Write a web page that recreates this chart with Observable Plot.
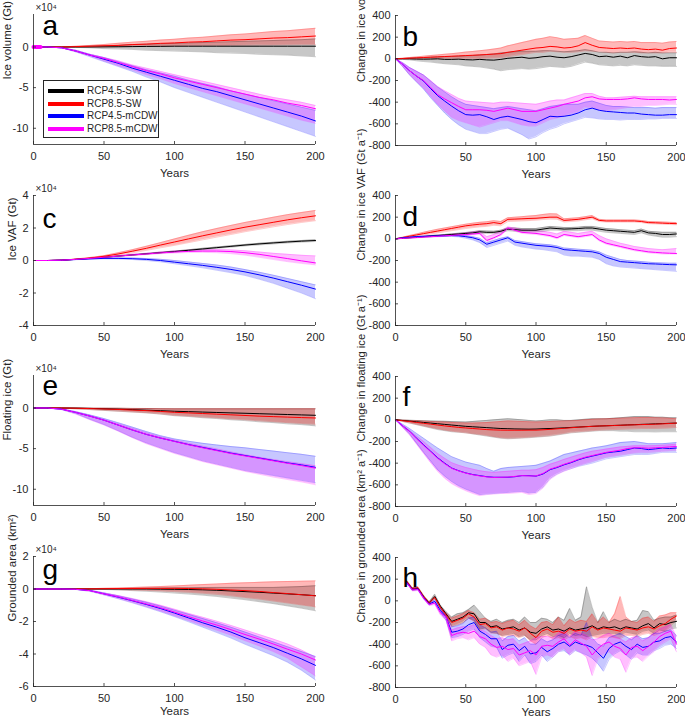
<!DOCTYPE html>
<html><head><meta charset="utf-8">
<script src="https://cdn.jsdelivr.net/npm/d3@7"></script>
<script src="https://cdn.jsdelivr.net/npm/@observablehq/plot@0.6"></script>
<style>
body{margin:0;width:685px;height:717px;overflow:hidden;background:#fff;font-family:"Liberation Sans",Arial,sans-serif}
#wrap{position:relative;width:685px;height:717px;overflow:hidden}
.p{position:absolute}
#legend{position:absolute;left:43px;top:80px;width:116px;height:58px;border:0.8px solid #262626;background:#fff;box-sizing:border-box}
.lrow{position:absolute;left:0;height:12px;width:116px}
.lline{position:absolute;left:3.5px;top:4px;width:36px;height:4px}
.ltext{position:absolute;left:43px;top:0px;font-size:10px;line-height:12px;color:#262626;white-space:nowrap}
</style>
</head><body><div id="wrap"></div>
<script>
// ---------- categories ----------
const seriesNames = ["RCP4.5-SW","RCP8.5-SW","RCP4.5-mCDW","RCP8.5-mCDW"];
const seriesColors = ["#000000","#ff0000","#0000ff","#ff00ff"];
const bandOpacity = [0.22,0.28,0.22,0.25];

// ---------- x values ----------
const yearsSmooth = [0,10,20,30,40,50,60,70,80,90,100,110,120,130,140,150,160,170,180,190,200];
const years5 = [0,5,10,15,20,25,30,35,40,45,50,55,60,65,70,75,80,85,90,95,100,105,110,115,120,125,130,135,140,145,150,155,160,165,170,175,180,185,190,195,200];
const yearsH = [8,12,16,20,24,28,32,36,40,44,48,52,56,60,64,68,72,76,80,84,88,92,96,100,104,108,112,116,120,124,128,132,136,140,144,148,152,156,160,164,168,172,176,180,184,188,192,196,200];

// ---------- tick labels ----------
const xTicksFull = [0,50,100,150,200];
const xTicksB = [50,100,150,200];
const yTicksA = [-10,-5,0];
const yTicksC = [-4,-2,0,2,4];
const yTicksE = [-10,-5,0];
const yTicksG = [-6,-4,-2,0,2];
const yTicksRate = [-800,-600,-400,-200,0,200,400];

// ---------- panel a: Ice volume (x1e4 Gt) ----------
const a_k_mean = [0,0,0,0,0,0.02,0.03,0.05,0.07,0.08,0.1,0.1,0.1,0.1,0.1,0.1,0.1,0.1,0.1,0.1,0.1];
const a_k_lo = [0,0,0,-0.05,-0.1,-0.2,-0.25,-0.3,-0.4,-0.45,-0.5,-0.55,-0.6,-0.7,-0.75,-0.8,-0.9,-0.95,-1.0,-1.1,-1.2];
const a_k_hi = [0,0,0,0.05,0.1,0.15,0.2,0.3,0.35,0.4,0.45,0.5,0.55,0.6,0.65,0.7,0.75,0.8,0.85,0.9,1.0];
const a_r_mean = [0,0,0,0.05,0.1,0.15,0.2,0.3,0.35,0.45,0.5,0.6,0.65,0.75,0.85,0.9,1.0,1.1,1.15,1.25,1.35];
const a_r_lo = [0,0,0,0,0,0.02,0.04,0.06,0.08,0.1,0.12,0.14,0.16,0.18,0.2,0.22,0.24,0.26,0.28,0.3,0.3];
const a_r_hi = [0,0,0,0.1,0.2,0.3,0.45,0.6,0.7,0.85,0.95,1.1,1.2,1.35,1.5,1.6,1.75,1.9,2.0,2.15,2.3];
const a_b_mean = [0,0,-0.1,-0.5,-1.0,-1.5,-2.0,-2.6,-3.1,-3.6,-4.1,-4.6,-5.1,-5.5,-6.0,-6.5,-7.0,-7.5,-8.0,-8.5,-9.1];
const a_b_lo = [0,0,-0.1,-0.6,-1.2,-1.8,-2.4,-3.0,-3.7,-4.3,-5.0,-5.6,-6.2,-6.8,-7.4,-8.0,-8.6,-9.2,-9.8,-10.4,-11.0];
const a_b_hi = [0,0,-0.1,-0.4,-0.9,-1.3,-1.8,-2.3,-2.8,-3.2,-3.6,-4.1,-4.5,-4.9,-5.4,-5.8,-6.2,-6.6,-7.0,-7.4,-7.8];
const a_m_mean = [0,0,-0.1,-0.5,-1.0,-1.4,-1.9,-2.4,-2.9,-3.3,-3.8,-4.2,-4.6,-5.0,-5.4,-5.8,-6.2,-6.5,-6.9,-7.2,-7.6];
const a_m_lo = [0,0,-0.1,-0.6,-1.1,-1.7,-2.3,-2.8,-3.4,-3.9,-4.5,-5.0,-5.5,-6.0,-6.5,-7.0,-7.5,-8.0,-8.5,-9.0,-9.4];
const a_m_hi = [0,0,-0.1,-0.4,-0.9,-1.3,-1.7,-2.2,-2.6,-3.0,-3.4,-3.8,-4.2,-4.6,-5.0,-5.4,-5.8,-6.2,-6.5,-6.8,-7.2];
const a_stubYears = [0,5];
const a_stubValues = [0,0];

// ---------- panel c: Ice VAF (x1e4 Gt) ----------
const c_k_mean = [0,0,0.02,0.07,0.13,0.2,0.27,0.34,0.41,0.48,0.55,0.63,0.71,0.79,0.87,0.95,1.02,1.08,1.14,1.19,1.23];
const c_k_lo = [0,0,0.02,0.07,0.12,0.19,0.26,0.32,0.39,0.45,0.52,0.6,0.67,0.75,0.82,0.9,0.96,1.02,1.08,1.13,1.17];
const c_k_hi = [0,0,0.02,0.07,0.14,0.21,0.28,0.36,0.43,0.51,0.58,0.66,0.75,0.83,0.91,0.99,1.06,1.12,1.18,1.23,1.27];
const c_r_mean = [0,0,0.02,0.08,0.15,0.26,0.4,0.57,0.75,0.95,1.14,1.33,1.52,1.7,1.88,2.05,2.2,2.35,2.5,2.63,2.75];
const c_r_lo = [0,0,0.02,0.07,0.13,0.22,0.33,0.47,0.62,0.78,0.93,1.1,1.27,1.44,1.6,1.77,1.92,2.07,2.21,2.34,2.45];
const c_r_hi = [0,0,0.02,0.09,0.18,0.3,0.47,0.66,0.87,1.1,1.33,1.55,1.77,1.97,2.16,2.34,2.5,2.66,2.82,2.95,3.08];
const c_b_mean = [0,0,0.02,0.06,0.1,0.13,0.13,0.11,0.07,0.0,-0.1,-0.2,-0.3,-0.42,-0.55,-0.7,-0.88,-1.08,-1.3,-1.52,-1.76];
const c_b_lo = [0,0,0.02,0.05,0.08,0.1,0.09,0.06,0.0,-0.08,-0.2,-0.32,-0.45,-0.6,-0.75,-0.92,-1.15,-1.4,-1.7,-2.0,-2.35];
const c_b_hi = [0,0,0.02,0.07,0.11,0.15,0.16,0.15,0.12,0.07,0.0,-0.09,-0.18,-0.28,-0.4,-0.56,-0.72,-0.9,-1.1,-1.3,-1.5];
const c_m_mean = [0,0,0.02,0.07,0.13,0.2,0.27,0.34,0.4,0.47,0.52,0.56,0.58,0.58,0.55,0.48,0.38,0.25,0.12,-0.02,-0.15];
const c_m_lo = [0,0,0.02,0.06,0.12,0.18,0.24,0.3,0.36,0.42,0.46,0.49,0.5,0.48,0.42,0.33,0.2,0.06,-0.07,-0.18,-0.27];
const c_m_hi = [0,0,0.02,0.08,0.14,0.22,0.3,0.38,0.45,0.52,0.58,0.63,0.66,0.67,0.65,0.6,0.52,0.44,0.38,0.32,0.28];

// ---------- panel e: Floating ice (x1e4 Gt) ----------
const e_k_mean = [0,0,0,-0.02,-0.05,-0.1,-0.15,-0.2,-0.27,-0.33,-0.4,-0.45,-0.5,-0.55,-0.6,-0.65,-0.7,-0.75,-0.8,-0.85,-0.9];
const e_k_lo = [0,0,-0.02,-0.1,-0.2,-0.3,-0.4,-0.5,-0.6,-0.75,-0.95,-1.05,-1.2,-1.3,-1.45,-1.55,-1.7,-1.8,-1.95,-2.05,-2.2];
const e_k_hi = [0,0,0,0,-0.02,-0.03,-0.04,-0.05,-0.06,-0.08,-0.1,-0.1,-0.1,-0.1,-0.1,-0.1,-0.1,-0.1,-0.1,-0.1,-0.1];
const e_r_mean = [0,0,0,-0.03,-0.07,-0.12,-0.18,-0.25,-0.32,-0.42,-0.53,-0.6,-0.68,-0.76,-0.84,-0.92,-1.0,-1.06,-1.12,-1.18,-1.23];
const e_r_lo = [0,0,-0.02,-0.1,-0.19,-0.28,-0.38,-0.48,-0.58,-0.72,-0.9,-1.0,-1.12,-1.22,-1.35,-1.45,-1.58,-1.68,-1.8,-1.9,-2.0];
const e_r_hi = [0,0,0,0,-0.02,-0.03,-0.04,-0.05,-0.06,-0.08,-0.1,-0.1,-0.1,-0.1,-0.1,-0.1,-0.1,-0.1,-0.1,-0.1,-0.1];
const e_b_mean = [0,0,-0.15,-0.55,-1.0,-1.5,-2.1,-2.7,-3.25,-3.7,-4.1,-4.5,-4.85,-5.2,-5.55,-5.85,-6.15,-6.45,-6.75,-7.0,-7.3];
const e_b_lo = [0,0,-0.2,-0.7,-1.4,-2.05,-2.8,-3.6,-4.3,-4.9,-5.5,-6.0,-6.5,-6.9,-7.3,-7.7,-8.0,-8.3,-8.6,-8.9,-9.2];
const e_b_hi = [0,0,-0.1,-0.45,-0.85,-1.3,-1.8,-2.35,-2.9,-3.4,-3.8,-4.1,-4.35,-4.55,-4.75,-4.9,-5.1,-5.3,-5.5,-5.7,-5.95];
const e_m_mean = [0,0,-0.15,-0.55,-1.0,-1.5,-2.1,-2.7,-3.25,-3.7,-4.12,-4.53,-4.9,-5.25,-5.6,-5.9,-6.2,-6.5,-6.8,-7.08,-7.4];
const e_m_lo = [0,0,-0.2,-0.75,-1.45,-2.1,-2.85,-3.65,-4.4,-5.0,-5.6,-6.1,-6.6,-7.0,-7.4,-7.8,-8.15,-8.5,-8.8,-9.1,-9.45];
const e_m_hi = [0,0,-0.1,-0.45,-0.9,-1.4,-1.95,-2.5,-3.05,-3.55,-3.95,-4.35,-4.7,-5.05,-5.4,-5.75,-6.05,-6.35,-6.6,-6.85,-7.1];

// ---------- panel g: Grounded area (x1e4 km2) ----------
const g_k_mean = [0,0,0,0,0,0,0,0,0,-0.01,-0.02,-0.03,-0.05,-0.08,-0.12,-0.16,-0.2,-0.25,-0.3,-0.35,-0.41];
const g_k_lo = [0,0,0,0,-0.01,-0.03,-0.06,-0.1,-0.14,-0.19,-0.25,-0.31,-0.38,-0.46,-0.56,-0.66,-0.78,-0.9,-1.04,-1.18,-1.34];
const g_k_hi = [0,0,0,0,0.01,0.02,0.03,0.04,0.05,0.06,0.07,0.08,0.09,0.1,0.1,0.1,0.1,0.1,0.12,0.15,0.2];
const g_r_mean = [0,0,0,0,0.01,0.02,0.03,0.03,0.04,0.04,0.04,0.03,0.01,-0.02,-0.06,-0.1,-0.15,-0.22,-0.28,-0.35,-0.42];
const g_r_lo = [0,0,0,0,-0.01,-0.02,-0.04,-0.06,-0.09,-0.12,-0.16,-0.2,-0.26,-0.33,-0.42,-0.52,-0.62,-0.74,-0.86,-0.98,-1.1];
const g_r_hi = [0,0,0,0.01,0.02,0.04,0.06,0.09,0.12,0.15,0.19,0.23,0.27,0.31,0.35,0.38,0.41,0.44,0.46,0.48,0.5];
const g_b_mean = [0,0,0,-0.02,-0.1,-0.3,-0.5,-0.72,-0.95,-1.2,-1.48,-1.78,-2.08,-2.35,-2.65,-3.0,-3.3,-3.6,-3.95,-4.3,-4.7];
const g_b_lo = [0,0,0,-0.03,-0.14,-0.36,-0.6,-0.85,-1.12,-1.4,-1.7,-2.02,-2.35,-2.68,-3.02,-3.4,-3.75,-4.1,-4.5,-5.0,-5.6];
const g_b_hi = [0,0,0,-0.01,-0.07,-0.24,-0.42,-0.62,-0.82,-1.05,-1.3,-1.56,-1.82,-2.08,-2.35,-2.65,-2.95,-3.25,-3.55,-3.85,-4.15];
const g_m_mean = [0,0,0,-0.02,-0.1,-0.3,-0.48,-0.7,-0.92,-1.15,-1.42,-1.7,-1.97,-2.22,-2.5,-2.8,-3.08,-3.38,-3.7,-4.0,-4.37];
const g_m_lo = [0,0,0,-0.03,-0.14,-0.36,-0.58,-0.82,-1.08,-1.35,-1.64,-1.94,-2.24,-2.54,-2.84,-3.18,-3.5,-3.85,-4.25,-4.8,-5.35];
const g_m_hi = [0,0,0,-0.01,-0.07,-0.24,-0.4,-0.58,-0.78,-1.0,-1.24,-1.5,-1.74,-1.98,-2.24,-2.52,-2.8,-3.08,-3.38,-3.75,-4.2];

// ---------- panel b: Change in ice volume (Gt/a) ----------
const b_k_mean = [0,0,0,-2,-3,-2,0,-5,-5,-3, -8,-10,-5,-10,-12,-5,5,10,15,5, 10,20,25,15,10,20,35,50,40,20, 25,15,25,10,30,20,15,20,0,10, 10];
const b_k_lo = [0,-5,-10,-18,-25,-30,-38,-45,-50,-55, -65,-70,-75,-85,-95,-110,-100,-95,-90,-95, -90,-80,-70,-75,-80,-70,-50,-30,-40,-55, -60,-65,-60,-65,-55,-60,-65,-65,-70,-70, -70];
const b_k_hi = [0,3,6,9,12,15,18,20,22,24, 28,30,35,40,45,55,60,65,70,70, 70,75,75,70,65,70,75,85,75,60, 60,55,60,60,65,60,55,60,55,55, 55];
const b_r_mean = [0,3,6,9,12,15,18,21,24,27, 30,33,36,40,44,48,60,70,80,90, 100,105,115,110,100,105,120,150,125,105, 100,95,100,95,100,90,85,90,80,95, 100];
const b_r_lo = [0,0,0,0,0,0,0,0,0,0, 0,2,4,6,8,10,20,30,40,50, 60,60,70,65,60,60,65,75,70,65, 60,55,60,60,60,55,55,55,55,60, 60];
const b_r_hi = [0,6,12,18,24,30,36,42,48,55, 62,68,75,82,90,100,120,135,150,165, 180,190,205,195,180,185,190,215,190,165, 160,155,160,155,160,150,150,150,145,155, 160];
const b_b_mean = [0,-50,-110,-160,-205,-275,-340,-390,-437,-480, -515,-520,-515,-535,-560,-540,-530,-545,-560,-580, -590,-560,-530,-535,-530,-520,-500,-470,-455,-475, -485,-490,-495,-500,-500,-510,-515,-520,-520,-515, -515];
const b_b_lo = [0,-70,-150,-215,-280,-360,-430,-500,-560,-610, -650,-670,-690,-690,-670,-650,-640,-670,-700,-740, -720,-680,-650,-630,-600,-580,-560,-540,-545,-555, -560,-560,-565,-560,-560,-560,-555,-555,-550,-550, -550];
const b_b_hi = [0,-35,-80,-115,-150,-205,-260,-305,-350,-390, -420,-430,-440,-450,-460,-450,-440,-450,-460,-470, -480,-460,-440,-430,-420,-420,-420,-400,-390,-410, -430,-440,-440,-445,-450,-450,-450,-455,-450,-450, -450];
const b_m_mean = [0,-50,-110,-160,-200,-265,-330,-370,-405,-440, -470,-470,-470,-475,-485,-470,-455,-470,-485,-485, -485,-470,-455,-440,-420,-405,-390,-360,-350,-370, -375,-375,-375,-370,-360,-370,-375,-375,-375,-380, -375];
const b_m_lo = [0,-70,-145,-210,-270,-345,-420,-480,-540,-570, -590,-610,-630,-610,-590,-570,-570,-590,-610,-620, -620,-590,-560,-545,-530,-510,-490,-450,-450,-470, -480,-470,-460,-450,-440,-440,-430,-430,-425,-420, -420];
const b_m_hi = [0,-35,-80,-115,-150,-200,-255,-295,-330,-365, -390,-395,-400,-405,-410,-400,-400,-405,-410,-415, -420,-405,-390,-380,-380,-360,-340,-320,-320,-345, -360,-360,-355,-350,-345,-350,-350,-350,-350,-350, -350];

// ---------- panel d: Change in ice VAF (Gt/a) ----------
const d_k_mean = [0,5,10,15,20,25,30,35,40,45, 50,55,65,60,60,70,90,85,80,80, 80,90,100,95,90,92,95,100,100,90, 80,75,70,65,60,75,55,50,40,40, 45];
const d_k_lo = [0,3,7,11,15,19,23,27,31,35, 40,45,52,50,50,55,75,70,65,65, 65,70,80,80,75,75,75,80,80,70, 60,55,50,45,40,55,35,25,15,15, 20];
const d_k_hi = [0,6,12,18,24,30,35,40,46,52, 58,65,75,72,70,80,100,100,95,95, 95,105,115,110,105,105,108,115,115,105, 95,90,85,80,75,90,70,65,60,60, 60];
const d_r_mean = [0,12,24,36,48,60,72,84,96,108, 120,128,135,140,150,140,180,182,185,188, 190,195,200,200,170,175,180,190,200,170, 165,165,165,165,165,160,150,148,145,142, 140];
const d_r_lo = [0,8,17,26,36,45,55,65,75,85, 95,103,110,115,125,120,160,162,165,168, 172,178,182,180,155,160,165,175,185,160, 155,155,155,155,155,150,140,138,135,132, 130];
const d_r_hi = [0,15,30,45,60,75,88,100,112,124, 135,145,152,158,168,160,195,200,205,210, 215,225,232,230,185,190,195,205,215,180, 175,175,175,175,175,170,160,158,155,152, 150];
const d_b_mean = [0,10,15,20,22,25,27,28,30,28, 20,10,-10,-50,-30,-10,10,-30,-40,-50, -60,-65,-70,-80,-100,-105,-110,-115,-120,-135, -170,-190,-210,-215,-220,-225,-230,-232,-235,-238, -240];
const d_b_lo = [0,7,12,16,18,20,22,22,22,18, 5,-10,-35,-80,-60,-40,-20,-60,-75,-85, -95,-100,-110,-120,-150,-160,-160,-165,-170,-190, -230,-250,-260,-265,-270,-275,-280,-285,-290,-295, -300];
const d_b_hi = [0,12,18,24,27,30,32,34,36,35, 30,20,5,-35,-15,5,20,-15,-25,-35, -45,-50,-55,-65,-85,-90,-95,-100,-105,-120, -150,-170,-190,-200,-205,-210,-215,-220,-222,-225, -225];
const d_m_mean = [0,4,8,12,16,20,24,28,32,36, 40,45,50,-15,10,40,100,80,60,55, 50,40,30,10,40,30,20,30,40,-10, -40,-55,-70,-85,-100,-110,-120,-125,-130,-133, -135];
const d_m_lo = [0,3,6,9,12,15,18,22,25,28, 32,36,40,-25,0,30,90,70,50,45, 40,30,20,0,30,20,10,20,30,-20, -50,-65,-80,-95,-110,-120,-130,-135,-140,-140, -140];
const d_m_hi = [0,6,11,16,21,26,31,36,42,48, 55,62,70,20,40,70,110,100,85,80, 75,70,60,45,70,60,50,60,70,30, 0,-20,-40,-55,-70,-80,-90,-95,-100,-95, -90];

// ---------- panel f: Change in floating ice (Gt/a) ----------
const f_k_mean = [0,-6,-12,-18,-24,-30,-36,-42,-48,-54, -60,-64,-68,-72,-76,-80,-82,-84,-85,-86, -85,-82,-80,-77,-74,-70,-67,-63,-60,-57, -55,-52,-50,-47,-45,-42,-40,-37,-35,-32, -30];
const f_k_lo = [0,-15,-30,-45,-60,-75,-90,-100,-110,-115, -120,-130,-140,-150,-160,-170,-175,-172,-168,-165, -160,-155,-150,-140,-130,-120,-115,-110,-105,-100, -100,-100,-105,-105,-110,-110,-110,-112,-110,-110, -110];
const f_k_hi = [0,-2,-4,-6,-8,-10,-12,-14,-16,-18, -20,-15,-10,-5,0,5,10,5,0,-5, -10,-5,0,0,-5,-5,0,5,10,10, 10,15,20,25,30,30,30,25,25,20, 20];
const f_r_mean = [0,-8,-16,-24,-32,-40,-48,-56,-63,-70, -75,-80,-85,-90,-93,-95,-96,-96,-96,-95, -95,-92,-88,-83,-78,-73,-68,-64,-60,-57, -55,-53,-50,-48,-46,-44,-42,-40,-37,-34, -30];
const f_r_lo = [0,-14,-28,-42,-56,-70,-84,-95,-105,-112, -120,-128,-135,-145,-155,-165,-170,-168,-165,-160, -155,-150,-145,-135,-125,-115,-110,-105,-100,-95, -92,-90,-88,-85,-83,-80,-80,-80,-78,-75, -70];
const f_r_hi = [0,-3,-6,-9,-12,-15,-18,-21,-24,-27, -30,-30,-28,-25,-20,-15,-10,-12,-15,-18, -20,-18,-15,-12,-10,-8,-5,0,5,8, 10,12,15,18,20,22,22,20,18,15, 10];
const f_b_mean = [0,-55,-105,-170,-230,-290,-350,-400,-445,-470, -490,-505,-515,-525,-530,-530,-530,-525,-515,-515, -520,-500,-460,-440,-415,-395,-370,-350,-335,-320, -305,-297,-290,-275,-260,-265,-275,-268,-260,-265, -260];
const f_b_lo = [0,-65,-130,-215,-300,-380,-460,-520,-570,-610, -640,-665,-690,-685,-680,-675,-670,-665,-660,-675, -670,-620,-540,-500,-470,-450,-430,-415,-400,-380, -360,-350,-340,-330,-320,-320,-320,-310,-300,-300, -300];
const f_b_hi = [0,-40,-80,-125,-170,-215,-260,-300,-340,-365, -390,-405,-420,-450,-475,-450,-440,-435,-430,-425, -420,-400,-380,-350,-320,-305,-290,-275,-260,-250, -240,-225,-210,-205,-200,-210,-220,-220,-220,-215, -210];
const f_m_mean = [0,-55,-108,-175,-235,-295,-355,-405,-448,-472, -492,-507,-518,-527,-532,-530,-528,-522,-515,-518, -518,-495,-455,-435,-410,-390,-365,-345,-330,-315, -300,-290,-280,-265,-258,-258,-262,-258,-255,-250, -245];
const f_m_lo = [0,-70,-140,-225,-310,-395,-475,-540,-590,-625, -655,-680,-700,-690,-685,-680,-680,-675,-670,-690, -680,-630,-550,-505,-475,-450,-425,-405,-385,-365, -345,-335,-325,-315,-305,-300,-300,-295,-290,-285, -280];
const f_m_hi = [0,-48,-95,-150,-200,-255,-310,-355,-395,-420, -440,-455,-470,-480,-485,-480,-475,-470,-465,-465, -460,-440,-410,-390,-365,-345,-325,-305,-290,-280, -270,-260,-250,-245,-240,-240,-240,-238,-235,-230, -225];

// ---------- panel h: Change in grounded area (km2/a) ----------
const h_k_mean = [175,110,115,40,-20,40,-50,-120,-190,-170, -150,-110,-120,-200,-200,-240,-230,-260,-250,-240, -270,-250,-290,-300,-260,-240,-270,-260,-280,-250, -270,-260,-250,-230,-260,-240,-250,-240,-260,-240, -250,-260,-230,-210,-250,-210,-220,-200,-190];
const h_k_lo = [165,100,105,30,-30,20,-70,-150,-230,-220, -200,-160,-180,-260,-250,-290,-300,-320,-310,-300, -330,-320,-360,-360,-320,-300,-330,-320,-340,-300, -320,-310,-330,-320,-310,-300,-300,-300,-310,-290, -300,-310,-280,-270,-300,-270,-280,-260,-250];
const h_k_hi = [185,120,125,50,-10,60,-40,-100,-150,-120, -110,-80,-40,-100,-160,-190,-170,-200,-180,-170, -200,-150,-200,-200,-160,-170,-200,-150,-180,-70, -180,-150,130,-60,-200,-100,-200,-170,-190,-170, -190,-180,-90,-100,-180,-160,-150,-150,-130];
const h_r_mean = [180,110,120,40,-20,30,-60,-130,-200,-180, -160,-120,-150,-220,-210,-250,-240,-270,-250,-260, -280,-250,-300,-340,-280,-260,-290,-280,-300,-260, -280,-270,-280,-240,-270,-250,-260,-270,-280,-250, -260,-270,-250,-240,-260,-230,-210,-170,-140];
const h_r_lo = [170,100,110,30,-30,20,-70,-150,-240,-220, -200,-160,-190,-270,-260,-300,-300,-330,-320,-320, -340,-320,-370,-400,-340,-320,-350,-340,-360,-330, -350,-340,-360,-330,-340,-340,-330,-340,-350,-320, -320,-330,-310,-300,-320,-300,-280,-230,-180];
const h_r_hi = [190,120,130,50,-10,40,-50,-110,-160,-140, -120,-90,-110,-170,-160,-200,-190,-210,-190,-180, -220,-180,-230,-260,-200,-190,-220,-150,-230,-170, -200,-180,-190,-120,-200,-150,-200,-120,40,-150, -190,-200,-160,-150,-190,-140,-130,-110,-110];
const h_b_mean = [170,105,110,30,-30,-5,-90,-150,-290,-280, -260,-220,-200,-280,-310,-350,-350,-450,-410,-400, -460,-420,-490,-480,-430,-470,-440,-400,-380,-420, -380,-400,-410,-430,-480,-530,-440,-400,-380,-420, -450,-400,-430,-420,-380,-370,-340,-330,-380];
const h_b_lo = [165,95,100,20,-40,-20,-110,-180,-340,-330, -310,-280,-260,-340,-380,-420,-430,-530,-500,-480, -560,-500,-580,-560,-500,-560,-520,-470,-460,-500, -460,-480,-500,-530,-580,-650,-540,-490,-460,-500, -540,-480,-500,-500,-460,-440,-410,-400,-440];
const h_b_hi = [175,115,120,40,-20,10,-70,-120,-240,-230, -210,-160,-150,-220,-250,-290,-280,-370,-330,-320, -370,-340,-400,-400,-350,-380,-360,-320,-300,-340, -300,-320,-200,-340,-400,-420,-340,-320,-300,-330, -360,-320,-350,-340,-300,-300,-280,-270,-320];
const h_m_mean = [165,100,105,25,-35,-20,-110,-150,-320,-300, -290,-300,-280,-330,-350,-400,-430,-420,-450,-440, -500,-480,-460,-500,-420,-410,-420,-380,-350,-410, -360,-390,-420,-500,-440,-400,-380,-420,-440,-500, -430,-420,-460,-420,-380,-330,-300,-280,-400];
const h_m_lo = [160,90,95,15,-45,-35,-130,-180,-370,-350, -340,-360,-340,-400,-430,-500,-520,-500,-560,-530, -600,-580,-560,-680,-520,-500,-520,-470,-440,-500, -450,-480,-520,-690,-540,-500,-470,-520,-540,-660, -530,-520,-560,-510,-470,-410,-380,-350,-470];
const h_m_hi = [170,110,115,35,-25,-5,-90,-120,-270,-250, -240,-240,-220,-270,-280,-320,-350,-340,-360,-350, -410,-390,-370,-340,-330,-330,-340,-300,-270,-330, -280,-300,-320,-360,-350,-320,-300,-330,-350,-380, -340,-330,-370,-340,-300,-260,-240,-220,-330];

// ---------- rendering ----------
const axisColor = "#262626";
const wrap = document.getElementById("wrap");

function rows(years, mean, lo, hi) {
  return years.map((x, i) => ({x, mean: mean[i], lo: lo[i], hi: hi[i]}));
}

function panel(cfg) {
  const W = cfg.width, H = 180, mT = 14, mB = 36;
  const plotW = W - cfg.mL - cfg.mR, plotH = H - mT - mB;
  const data = cfg.series.map(s => rows(cfg.years, s[0], s[1], s[2]));
  const marks = [];
  data.forEach((d, i) => marks.push(Plot.areaY(d, {x: "x", y1: "lo", y2: "hi", fill: seriesColors[i], fillOpacity: bandOpacity[i]})));
  data.forEach((d, i) => {
    marks.push(Plot.lineY(d, {x: "x", y: "lo", stroke: seriesColors[i], strokeOpacity: 0.3, strokeWidth: 0.7}));
    marks.push(Plot.lineY(d, {x: "x", y: "hi", stroke: seriesColors[i], strokeOpacity: 0.3, strokeWidth: 0.7}));
  });
  data.forEach((d, i) => marks.push(Plot.lineY(d, {x: "x", y: "mean", stroke: seriesColors[i], strokeWidth: 1})));
  if (cfg.extra) marks.push(...cfg.extra);
  marks.push(Plot.ruleX([0], {stroke: axisColor, strokeWidth: 0.8}));
  marks.push(Plot.ruleY([cfg.yDomain[0]], {stroke: axisColor, strokeWidth: 0.8}));
  marks.push(Plot.ruleX(cfg.xTicks, {stroke: axisColor, strokeWidth: 0.8, insetTop: plotH - 3}));
  marks.push(Plot.ruleY(cfg.yTicks, {stroke: axisColor, strokeWidth: 0.8, insetRight: plotW - 3}));
  marks.push(Plot.axisX({ticks: cfg.xTicks, tickSize: 0, tickPadding: 8, label: null, tickFormat: d => String(d)}));
  marks.push(Plot.axisY({ticks: cfg.yTicks, tickSize: 0, tickPadding: 5, label: null, tickFormat: d => String(d)}));
  marks.push(Plot.text(["Years"], {text: d => d, frameAnchor: "bottom", dy: cfg.yearsDy ?? 32, lineAnchor: "bottom", fontSize: 11.5}));
  marks.push(Plot.text([cfg.yLabel], {text: d => d, frameAnchor: "left", rotate: -90, dx: cfg.yLabelDx, dy: cfg.yLabelDy ?? 0, fontSize: cfg.yLabelSize ?? 11.5}));
  marks.push(Plot.text([cfg.letter], {text: d => d, frameAnchor: "top-left", textAnchor: "start", lineAnchor: "bottom", dx: cfg.letterDx, dy: cfg.letterDy, fontSize: 28, fill: "#000"}));
  if (cfg.scaleNote) marks.push(Plot.text([cfg.scaleNote], {text: d => d, frameAnchor: "top-left", textAnchor: "start", lineAnchor: "bottom", dx: 2, dy: -3.5, fontSize: 10}));
  const svg = Plot.plot({
    width: W, height: H, marginTop: mT, marginBottom: mB, marginLeft: cfg.mL, marginRight: cfg.mR,
    x: {domain: [0, 200]}, y: {domain: cfg.yDomain},
    style: {fontFamily: '"Liberation Sans", Arial, sans-serif', fontSize: "11px", color: axisColor, background: "transparent", overflow: "visible"},
    marks
  });
  svg.classList.add("p");
  svg.style.left = cfg.left + "px";
  svg.style.top = (cfg.top - mT) + "px";
  wrap.appendChild(svg);
}

const L = {width: 340, mL: 33, mR: 25, left: 0, letterDx: 9, xTicks: xTicksFull, years: yearsSmooth, scaleNote: "×10⁴"};
const R = {width: 345, mL: 55, mR: 9, left: 340, letterDx: 7, yLabelDx: -34, yLabelSize: 11.2, yDomain: [-800, 400], yTicks: yTicksRate};

panel({...L, top: 14, yDomain: [-12, 4], yTicks: yTicksA, yLabel: "Ice volume (Gt)", yLabelDx: -26, letter: "a", letterDy: 20,
  series: [[a_k_mean,a_k_lo,a_k_hi],[a_r_mean,a_r_lo,a_r_hi],[a_b_mean,a_b_lo,a_b_hi],[a_m_mean,a_m_lo,a_m_hi]],
  extra: [Plot.lineY(a_stubYears.map((x, i) => ({x, v: a_stubValues[i]})), {x: "x", y: "v", stroke: "#ff00ff", strokeWidth: 4})]});
panel({...L, top: 195, yDomain: [-4, 4], yTicks: yTicksC, yLabel: "Ice VAF (Gt)", yLabelDx: -21, letter: "c", letterDy: 32,
  series: [[c_k_mean,c_k_lo,c_k_hi],[c_r_mean,c_r_lo,c_r_hi],[c_b_mean,c_b_lo,c_b_hi],[c_m_mean,c_m_lo,c_m_hi]]});
panel({...L, top: 375, yDomain: [-12, 4], yTicks: yTicksE, yLabel: "Floating ice (Gt)", yLabelDx: -26, letter: "e", letterDy: 19,
  series: [[e_k_mean,e_k_lo,e_k_hi],[e_r_mean,e_r_lo,e_r_hi],[e_b_mean,e_b_lo,e_b_hi],[e_m_mean,e_m_lo,e_m_hi]]});
panel({...L, top: 556, yearsDy: 28.5, yDomain: [-6, 2], yTicks: yTicksG, yLabel: "Grounded area (km²)", yLabelDx: -21, letter: "g", letterDy: 22,
  series: [[g_k_mean,g_k_lo,g_k_hi],[g_r_mean,g_r_lo,g_r_hi],[g_b_mean,g_b_lo,g_b_hi],[g_m_mean,g_m_lo,g_m_hi]]});

panel({...R, top: 15, yLabelDy: 1.5, xTicks: xTicksB, years: years5, yLabel: "Change in ice volume (Gt a⁻¹)", letter: "b", letterDy: 30,
  series: [[b_k_mean,b_k_lo,b_k_hi],[b_r_mean,b_r_lo,b_r_hi],[b_b_mean,b_b_lo,b_b_hi],[b_m_mean,b_m_lo,b_m_hi]]});
panel({...R, top: 195, xTicks: xTicksFull, years: years5, yLabel: "Change in ice VAF (Gt a⁻¹)", letter: "d", letterDy: 30,
  series: [[d_k_mean,d_k_lo,d_k_hi],[d_r_mean,d_r_lo,d_r_hi],[d_b_mean,d_b_lo,d_b_hi],[d_m_mean,d_m_lo,d_m_hi]]});
panel({...R, top: 376, xTicks: xTicksFull, years: years5, yLabel: "Change in floating ice (Gt a⁻¹)", letter: "f", letterDy: 29,
  series: [[f_k_mean,f_k_lo,f_k_hi],[f_r_mean,f_r_lo,f_r_hi],[f_b_mean,f_b_lo,f_b_hi],[f_m_mean,f_m_lo,f_m_hi]]});
panel({...R, top: 557, yearsDy: 28, xTicks: xTicksFull, years: yearsH, yLabel: "Change in grounded area (km² a⁻¹)", letter: "h", letterDy: 29,
  series: [[h_k_mean,h_k_lo,h_k_hi],[h_r_mean,h_r_lo,h_r_hi],[h_b_mean,h_b_lo,h_b_hi],[h_m_mean,h_m_lo,h_m_hi]]});

// legend (panel a)
const legend = document.createElement("div");
legend.id = "legend";
seriesNames.forEach((name, i) => {
  const row = document.createElement("div");
  row.className = "lrow";
  row.style.top = (4 + i * 12.6) + "px";
  const ln = document.createElement("div");
  ln.className = "lline";
  ln.style.background = seriesColors[i];
  const tx = document.createElement("div");
  tx.className = "ltext";
  tx.textContent = name;
  row.appendChild(ln); row.appendChild(tx);
  legend.appendChild(row);
});
wrap.appendChild(legend);
</script>
</body></html>
